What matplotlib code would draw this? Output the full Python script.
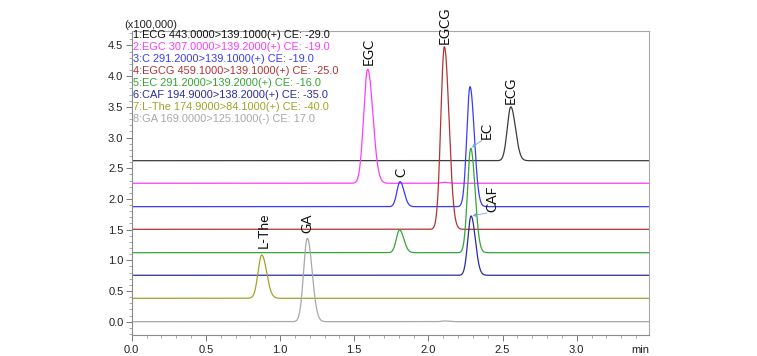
import numpy as np
import matplotlib
matplotlib.use("Agg")
import matplotlib.pyplot as plt
from matplotlib.ticker import MultipleLocator

plt.rcParams["font.family"] = ["Liberation Sans", "DejaVu Sans"]

# MRM channels (legend order, top trace first)
channel_names = [
    "1:ECG 443.0000>139.1000(+) CE: -29.0",
    "2:EGC 307.0000>139.2000(+) CE: -19.0",
    "3:C 291.2000>139.1000(+) CE: -19.0",
    "4:EGCG 459.1000>139.1000(+) CE: -25.0",
    "5:EC 291.2000>139.2000(+) CE: -16.0",
    "6:CAF 194.9000>138.2000(+) CE: -35.0",
    "7:L-The 174.9000>84.1000(+) CE: -40.0",
    "8:GA 169.0000>125.1000(-) CE: 17.0",
]
channel_colors = ["#3c3c3c", "#ff3cff", "#3a3aff", "#b03434",
                  "#35a535", "#2c2c9c", "#a3a32a", "#a8a8a8"]
baselines = [2.623, 2.255, 1.874, 1.505, 1.124, 0.756, 0.381, 0.0]

# peaks: channel index, retention time (min), height above baseline, width
peak_ch = [0, 1, 1, 2, 2, 3, 4, 4, 5, 6, 7, 7]
peak_rt = [2.556, 1.591, 2.108, 1.809, 2.281, 2.108, 1.806, 2.286, 2.288, 0.877, 1.184, 2.11]
peak_h = [0.877, 1.857, 0.015, 0.407, 1.955, 2.975, 0.370, 1.701, 0.966, 0.706, 1.359, 0.012]
peak_sigma = [0.024, 0.027, 0.02, 0.021, 0.022, 0.024, 0.022, 0.022, 0.022, 0.025, 0.025, 0.02]

# peak annotations (index into the peak lists)
label_text = ["ECG", "EGC", "C", "EGCG", "EC", "CAF", "L-The", "GA"]
label_peak = [0, 1, 3, 5, 7, 8, 9, 10]
# label offsets from the apex in pixels (dx, dy up), and which get an arrow
label_offset = [(0, 3), (1.5, 4), (1, 5), (0.5, 3), (16, 9), (21, 4), (1.5, 7), (0.5, 5)]
label_arrow = [False, False, False, False, True, True, False, False]

T_MAX = 3.49
TAIL = 1.3


def trace(t, ch):
    y = np.full_like(t, baselines[ch])
    for c, rt, h, s in zip(peak_ch, peak_rt, peak_h, peak_sigma):
        if c != ch:
            continue
        sig = np.where(t < rt, s, s * TAIL)
        y += h * np.exp(-0.5 * ((t - rt) / sig) ** 2)
    return y


def main():
    fig = plt.figure(figsize=(7.57, 3.56), dpi=100)
    ax = fig.add_axes([0.174, 0.059, 0.6838, 0.8548])

    t = np.linspace(0, T_MAX, 2000)
    for ch in range(len(channel_names)):
        ax.plot(t, trace(t, ch), color=channel_colors[ch], lw=0.9)

    ax.set_xlim(0, T_MAX)
    ax.set_ylim(-0.217, 4.741)

    ax.xaxis.set_major_locator(MultipleLocator(0.5))
    ax.xaxis.set_minor_locator(MultipleLocator(0.1))
    ax.yaxis.set_major_locator(MultipleLocator(0.5))
    ax.yaxis.set_minor_locator(MultipleLocator(0.1))
    ax.set_xticks(np.arange(0, 3.01, 0.5))
    ax.xaxis.set_major_formatter(lambda v, p: f"{v:.1f}")
    ax.yaxis.set_major_formatter(lambda v, p: f"{v:.1f}")
    ax.tick_params(which="major", length=4, width=0.6, color="#666666",
                   labelsize=8, pad=2, labelcolor="#222222")
    ax.tick_params(axis="x", which="major", pad=3)
    ax.tick_params(which="minor", length=2.5, width=0.5, color="#888888")
    for side in ax.spines:
        ax.spines[side].set_color("#a8a8a8")
        ax.spines[side].set_linewidth(0.8)
    ax.spines["left"].set_color("#8a8a8a")
    ax.spines["bottom"].set_color("#8a8a8a")

    ax.annotate("min", xy=(1.0, 0.0), xycoords="axes fraction", xytext=(0, -7),
                textcoords="offset points", ha="right", va="top",
                fontsize=8, color="#222222")
    fig.text(0.1995, 0.9298, "(x100,000)", ha="center", va="center",
             fontsize=8, color="#222222")

    # channel legend
    ax_h = 304.3
    for i, (name, col) in enumerate(zip(channel_names, channel_colors)):
        yc = 1 - (4.0 + i * 12.07) / ax_h
        ax.text(0.003, yc, name, transform=ax.transAxes, ha="left", va="center",
                fontsize=7.9, color="#111111" if i == 0 else col)

    # peak labels
    k = 0.72  # px -> pt at 100 dpi
    for name, pi, (dx, dy), arrow in zip(label_text, label_peak, label_offset, label_arrow):
        rt = peak_rt[pi]
        apex = baselines[peak_ch[pi]] + peak_h[pi]
        ax.annotate(name, xy=(rt, apex), xytext=(dx * k, dy * k),
                    textcoords="offset points", rotation=90, ha="center",
                    va="bottom", fontsize=10, family=["Lato", "DejaVu Sans"],
                    color="#111111", annotation_clip=False)
        if arrow:
            ax.annotate("", xy=(rt, apex), xytext=((dx - 5) * k, (dy - 1) * k),
                        textcoords="offset points", xycoords="data",
                        arrowprops=dict(arrowstyle="-|>", color="#6fa8dc",
                                        lw=0.6, mutation_scale=5,
                                        shrinkA=0, shrinkB=1))

    fig.savefig("out.png", dpi=100)


if __name__ == "__main__":
    main()
